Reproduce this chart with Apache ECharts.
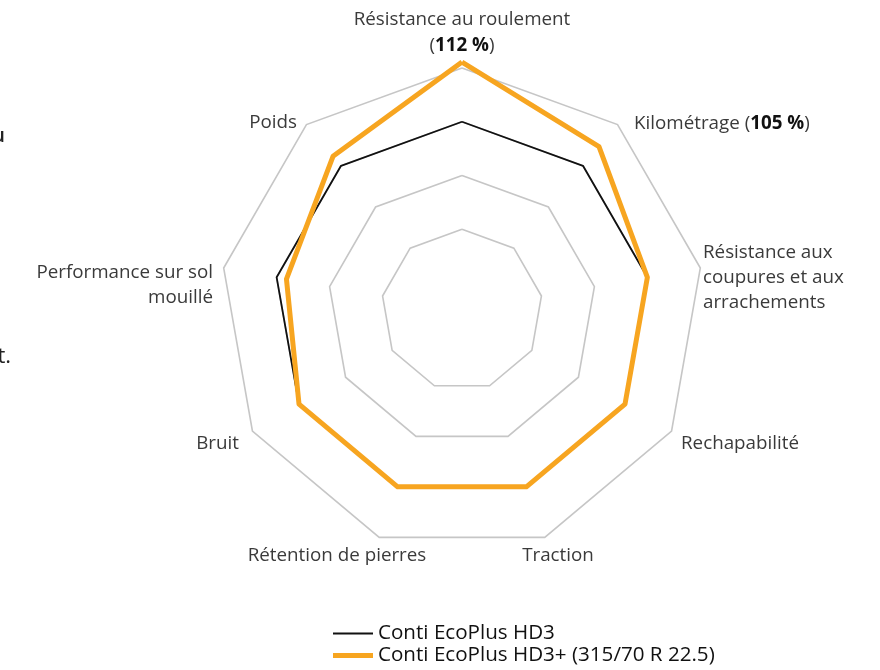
<!DOCTYPE html>
<html>
<head>
<meta charset="utf-8">
<script src="https://cdn.jsdelivr.net/npm/echarts@6/dist/echarts.min.js"></script>
<style>
  html, body { margin: 0; padding: 0; background: #fff; }
  #main { width: 880px; height: 670px; }
</style>
</head>
<body>
<div id="main"></div>
<script>
// indicator names, in ECharts order (counter-clockwise from the top)
const categories = [
  "Résistance au roulement",
  "Poids",
  "Performance sur sol mouillé",
  "Bruit",
  "Rétention de pierres",
  "Traction",
  "Rechapabilité",
  "Résistance aux coupures et aux arrachements",
  "Kilométrage"
];
const seriesNames = ["Conti EcoPlus HD3", "Conti EcoPlus HD3+ (315/70 R 22.5)"];
// values in % of the HD3 reference
const hd3Values = [100, 100, 100, 100, 100, 100, 100, 100, 100];
const hd3PlusValues = [112, 102.5, 98, 100, 100, 100, 100, 100, 105];
const axisMin = 62.2;
const axisMax = 110.8;

const textFont = '400 18.8px "Open Sans"';
const boldFont = '700 18.8px "Open Sans"';
const textColor = "#3a3a3a";

// label layout: [index, x, y, align]
const labelLayout = [
  [0, 462, 20, "center"],
  [8, 634, 124, "left"],
  [7, 703, 253, "left"],
  [6, 681, 444, "left"],
  [5, 558, 556, "center"],
  [4, 337, 556, "center"],
  [3, 239, 444, "right"],
  [2, 213, 273, "right"],
  [1, 297, 123, "right"]
];
const lineBreaks = {
  7: ["Résistance aux", "coupures et aux", "arrachements"],
  2: ["Performance sur sol", "mouillé"]
};

var myChart = echarts.init(document.getElementById("main"));

const richStyles = {
  n: { font: textFont, fill: textColor },
  b: { font: boldFont, fill: "#111" }
};

let graphics = [];
labelLayout.forEach(function (item) {
  let idx = item[0];
  let lines = lineBreaks[idx] || [categories[idx]];
  lines.forEach(function (line, i) {
    let txt = "{n|" + line + "}";
    if (idx == 8) txt = "{n|" + line + " (}{b|" + hd3PlusValues[idx] + " %}{n|)}";
    graphics.push({
      type: "text",
      style: {
        text: txt,
        x: item[1],
        y: item[2] + i * 25,
        textAlign: item[3],
        textVerticalAlign: "middle",
        rich: richStyles
      }
    });
  });
});
// second line of the top label
graphics.push({
  type: "text",
  style: {
    text: "{n|(}{b|" + hd3PlusValues[0] + " %}{n|)}",
    x: 462,
    y: 46,
    textAlign: "center",
    textVerticalAlign: "middle",
    rich: richStyles
  }
});
// cut-off text at the left page edge
graphics.push({
  type: "text",
  style: { text: "au", x: 5, y: 136, textAlign: "right", textVerticalAlign: "middle",
    font: '600 20px "Open Sans"', fill: "#222" }
});
graphics.push({
  type: "text",
  style: { text: "t.", x: 11, y: 357, textAlign: "right", textVerticalAlign: "middle",
    font: '400 22px "Open Sans"', fill: "#222" }
});

// only rings 3, 5, 7 and 9 are drawn
const ringColors = ["transparent", "transparent", "transparent", "#c6c6c6", "transparent",
  "#c6c6c6", "transparent", "#c6c6c6", "transparent", "#c6c6c6"];

const legendText = { fontFamily: "Open Sans", fontSize: 20.6, color: "#111" };

const option = {
  animation: false,
  backgroundColor: "#fff",
  legend: [
    {
      data: [seriesNames[0]],
      left: 333,
      top: 623,
      padding: 0,
      icon: "rect",
      itemWidth: 40,
      itemHeight: 2,
      textStyle: legendText
    },
    {
      data: [seriesNames[1]],
      left: 333,
      top: 645,
      padding: 0,
      icon: "rect",
      itemWidth: 40,
      itemHeight: 5,
      textStyle: legendText
    }
  ],
  radar: {
    center: [462, 310],
    radius: 242,
    startAngle: 90,
    shape: "polygon",
    splitNumber: 9,
    indicator: categories.map(function (name) {
      return { name: name, min: axisMin, max: axisMax };
    }),
    axisName: { show: false },
    axisLine: { show: false },
    axisTick: { show: false },
    axisLabel: { show: false },
    splitArea: { show: false },
    splitLine: { lineStyle: { color: ringColors, width: 1.6 } }
  },
  series: [
    {
      type: "radar",
      symbol: "none",
      data: [
        { name: seriesNames[0], value: hd3Values,
          lineStyle: { color: "#111", width: 1.8 }, itemStyle: { color: "#111" } },
        { name: seriesNames[1], value: hd3PlusValues,
          lineStyle: { color: "#f7a520", width: 5 }, itemStyle: { color: "#f7a520" } }
      ]
    }
  ],
  graphic: graphics
};

myChart.setOption(option);
</script>
</body>
</html>
